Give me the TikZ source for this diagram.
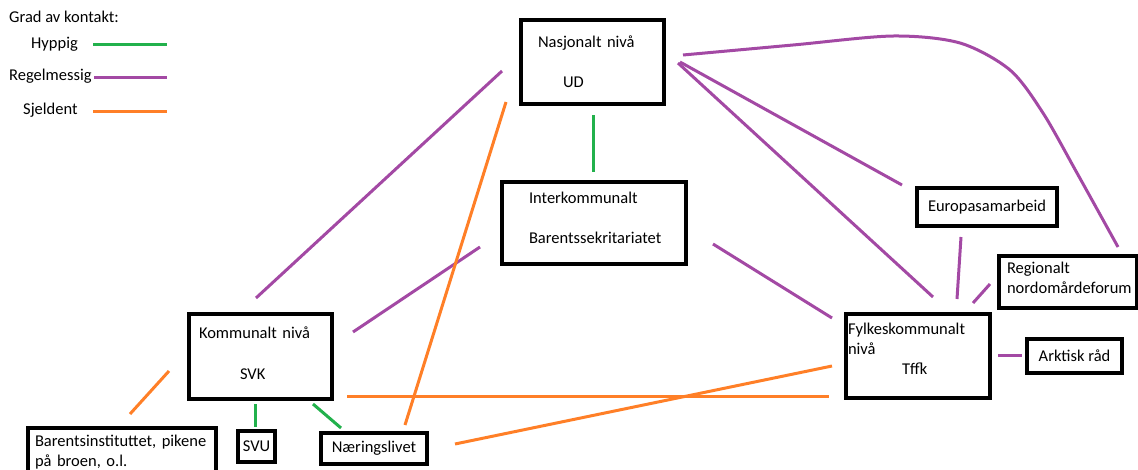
\documentclass[tikz,border=0pt]{standalone}
\usepackage{fontspec}
\setmainfont{Carlito}
\usetikzlibrary{positioning, calc}
\definecolor{gronn}{RGB}{34,177,76}
\definecolor{lilla}{RGB}{163,73,164}
\definecolor{oransje}{RGB}{255,127,39}
\newcommand{\luft}[1]{\rule[-#1]{0pt}{#1}}

\begin{document}
\begin{tikzpicture}[x=1pt, y=-1pt,
		boks/.style={draw, line width=3.4pt, rectangle, inner sep=0pt, outer sep=0pt, align=left, font=\fontsize{16.5}{20}\selectfont},
		tekst/.style={inner sep=0pt, anchor=west, font=\fontsize{16.5}{20}\selectfont},
		hyppig/.style={gronn, line width=3pt},
		regel/.style={lilla, line width=3pt},
		sjelden/.style={oransje, line width=3pt}]
		\useasboundingbox (0,0) rectangle (1138,469);
		\clip (0,0) rectangle (1138,469);

		\node[tekst] (grad) at (9,17) {Grad av kontakt:};
		\node[tekst] (lhyppig) at (31,44) {Hyppig};
		\node[tekst] (lregel) at (9,76) {Regelmessig};
		\node[tekst] (lsjelden) at (23,110) {Sjeldent};
		\draw[hyppig] (93,44) -- (167,44);
		\draw[regel] (94,77) -- (167,77);
		\draw[sjelden] (93,111) -- (167,111);

		\node[boks, minimum width=143pt, minimum height=84pt, text width=109pt] (nasj) at (592.5,62) {Nasjonalt nivå\\[20pt]\hspace*{25pt}UD};
		\node[boks, minimum width=184pt, minimum height=82pt, text width=130pt] (interk) at (594,223) {Interkommunalt\\[20pt]Barentssekritariatet\luft{10pt}};
		\node[boks, minimum width=140pt, minimum height=38pt, align=center] (europa) at (987,207) {Europasamarbeid};
		\node[boks, minimum width=138pt, minimum height=52pt, text width=122pt] (region) at (1068,282) {Regionalt\\nordomårdeforum\luft{9pt}};
		\node[boks, minimum width=144pt, minimum height=84pt, text width=140pt] (fylke) at (918,356) {Fylkeskommunalt\\nivå\\\hspace*{54pt}Tffk\luft{14pt}};
		\node[boks, minimum width=95pt, minimum height=34pt, align=center] (arktisk) at (1074.5,356) {Arktisk råd};
		\node[boks, minimum width=143pt, minimum height=85pt, text width=123pt] (komm) at (260.5,356.5) {Kommunalt nivå\\[21pt]\hspace*{41pt}SVK\luft{6pt}};
		\node[boks, minimum width=188pt, minimum height=48pt, text width=174pt] (barents) at (122,452) {Barentsinstituttet, pikene\\på broen, o.l.};
		\node[boks, minimum width=37pt, minimum height=31pt, align=center] (svu) at (256.5,446.5) {SVU};
		\node[boks, minimum width=106pt, minimum height=31pt, align=center] (naer) at (374,448.5) {Næringslivet};

		\draw[hyppig] ($(nasj.south)+(0.5,11)$) -- ($(interk.north)+(-1,-10)$);
		\draw[hyppig] ($(komm.south)+(-5.5,5)$) -- ($(svu.north)+(-1.5,-4)$);
		\draw[hyppig] ($(komm.south)+(52.5,5)$) -- ($(naer.north west)+(20,-5)$);

		\draw[regel] ($(nasj.west)+(-19,9)$) -- ($(komm.north)+(-4.5,-16)$);
		\draw[regel] ($(nasj.east)+(16,0)$) -- ($(europa.north west)+(-15,-3)$);
		\draw[regel] ($(nasj.east)+(14,1)$) -- ($(fylke.north)+(15,-17)$);
		\coordinate (kurvestart) at ($(nasj.east)+(19,-7)$);
		\coordinate (kurveslutt) at ($(region.north)+(50,-9)$);
		\draw[regel] plot[smooth] coordinates {(kurvestart) (793,45) (893,36) (960,43) (1010,70) (1043,113) (1077,173) (kurveslutt)};
		\draw[regel] ($(interk.west)+(-22,24)$) -- ($(komm.north east)+(21,18)$);
		\draw[regel] ($(interk.east)+(27,21)$) -- ($(fylke.north west)+(-14,4)$);
		\draw[regel] ($(europa.south)+(-26,11)$) -- ($(fylke.north)+(39,-15)$);
		\draw[regel] ($(region.west)+(-9,2)$) -- ($(fylke.north east)+(-17,-11)$);
		\draw[regel] ($(fylke.east)+(8,-1)$) -- ($(arktisk.west)+(-5,-1)$);

		\draw[sjelden] ($(nasj.south west)+(-15,-2)$) -- ($(naer.north)+(31,-8)$);
		\draw[sjelden] ($(komm.south east)+(15,-3)$) -- ($(fylke.south west)+(-17,-2)$);
		\draw[sjelden] ($(naer.east)+(28,-4.5)$) -- ($(fylke.west)+(-14,10)$);
		\draw[sjelden] ($(komm.west)+(-20,14.5)$) -- ($(barents.north)+(8,-14)$);
	\end{tikzpicture}
\end{document}
